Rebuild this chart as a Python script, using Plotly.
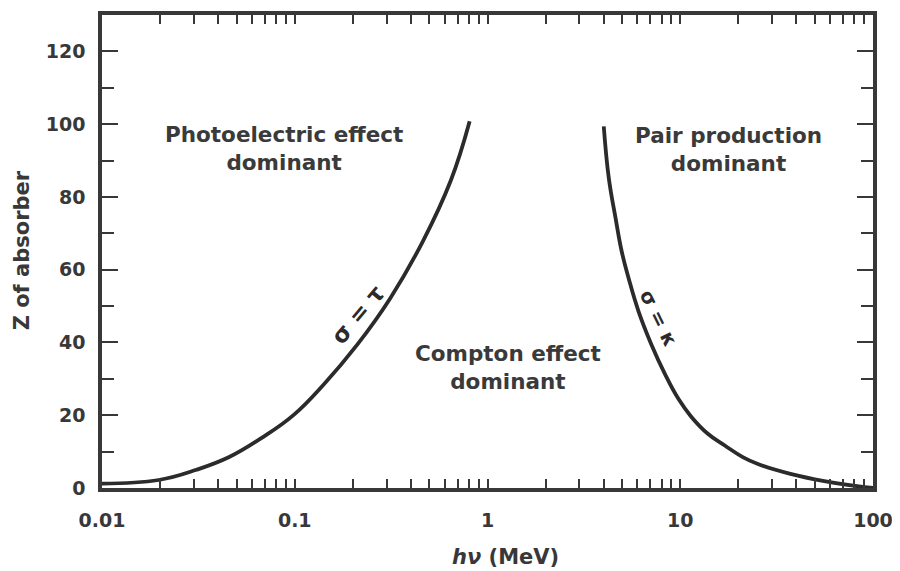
import numpy as np
import plotly.graph_objects as go

# sigma = tau boundary (photoelectric vs Compton)
tau_x = [0.01, 0.0197, 0.0309, 0.0457, 0.0684, 0.0988, 0.141, 0.211, 0.3125, 0.462, 0.645, 0.808]
tau_z = [1.2, 2.2, 5.0, 8.5, 14.0, 20.1, 28.4, 39.4, 52.1, 67.8, 84.5, 100.8]

# sigma = kappa boundary (Compton vs pair production)
kap_x = [4.01, 4.26, 4.62, 4.97, 5.40, 6.08, 7.09, 8.37, 9.78, 11.4, 13.9, 17.1, 21.1, 25.3, 37.3, 55.9, 82.7, 100]
kap_z = [99.4, 85.1, 74.1, 65.0, 57.6, 48.5, 39.4, 31.1, 24.5, 19.6, 14.9, 11.6, 8.5, 6.6, 3.9, 1.9, 0.5, 0.0]

decade_text = ["0.01", "0.1", "1", "10", "100"]
y_major = [0, 20, 40, 60, 80, 100, 120]

INK = "#383838"
FONT = "DejaVu Sans"

fig = go.Figure()
for xs, zs in [(tau_x, tau_z), (kap_x, kap_z)]:
    fig.add_trace(go.Scatter(x=xs, y=zs, mode="lines",
                             line=dict(color="#2b2b2b", width=3.8, shape="spline", smoothing=1.2),
                             showlegend=False, hoverinfo="skip"))

# x tick positions (all log minor positions), labels only on decades
xt, xl = [], []
for d in range(-2, 2):
    for m in range(1, 10):
        xt.append(m * 10 ** d)
        xl.append(f"<b>{decade_text[d + 2]}</b>" if m == 1 else "")
xt.append(100)
xl.append("<b>100</b>")

fig.update_xaxes(type="log", range=[-2, 2], tickvals=xt, ticktext=xl,
                 ticks="inside", ticklen=9, tickwidth=2, tickcolor=INK,
                 showline=True, linewidth=3.5, linecolor=INK, mirror="ticks",
                 showgrid=False, zeroline=False, automargin=False,
                 ticklabelstandoff=12,
                 tickfont=dict(family=FONT, size=19, color=INK))
fig.update_yaxes(range=[0, 130], tickvals=y_major,
                 ticktext=[f"<b>{v}</b>" for v in y_major],
                 ticks="inside", ticklen=16, tickwidth=2, tickcolor=INK,
                 minor=dict(dtick=10, tick0=0, ticks="inside", ticklen=12,
                            tickwidth=2, tickcolor=INK),
                 showline=True, linewidth=3.5, linecolor=INK, mirror="ticks",
                 showgrid=False, zeroline=False, automargin=False,
                 ticklabelstandoff=9,
                 tickfont=dict(family=FONT, size=19, color=INK))

# axis titles
fig.add_annotation(xref="paper", yref="paper", x=-0.1034, y=0.503,
                   xanchor="center", yanchor="middle",
                   text="<b>Z of absorber</b>", textangle=-90, showarrow=False,
                   font=dict(family=FONT, size=21, color=INK))
fig.add_annotation(xref="paper", yref="paper", x=0.523, y=-0.146,
                   xanchor="center", yanchor="middle",
                   text="<b><i>hν</i> (MeV)</b>", showarrow=False,
                   font=dict(family=FONT, size=21, color=INK))

lab_font = dict(family=FONT, size=21.5, color="#3a3a3a")
labels = [
    (0.0877, 93.2, "<b>Photoelectric effect<br>dominant</b>"),
    (17.9, 93.1, "<b>Pair production<br>dominant</b>"),
    (1.27, 33.0, "<b>Compton effect<br>dominant</b>"),
]
for x, y, t in labels:
    fig.add_annotation(x=np.log10(x), y=y, text=t, showarrow=False,
                       font=lab_font, align="center")

fig.add_annotation(x=np.log10(0.214), y=47.7, text="<b>σ = τ</b>", showarrow=False,
                   textangle=-50, font=dict(family=FONT, size=23, color="#2b2b2b"))
fig.add_annotation(x=np.log10(7.7), y=46.6, text="<b>σ = κ</b>", showarrow=False,
                   textangle=64, font=dict(family=FONT, size=20, color="#2b2b2b"))

fig.update_layout(width=900, height=571,
                  margin=dict(l=94, r=35, t=7, b=91),
                  plot_bgcolor="white", paper_bgcolor="white")

fig.write_html("out.html")
